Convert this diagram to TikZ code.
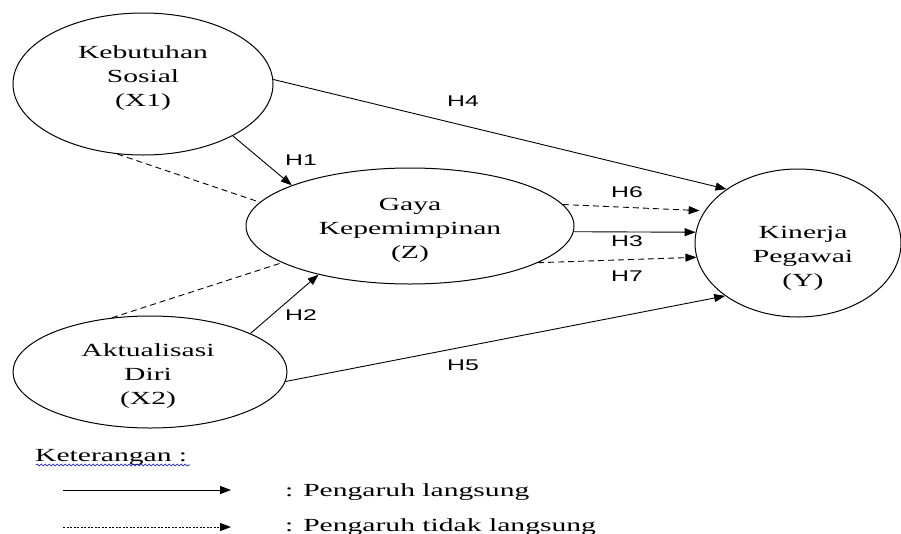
\documentclass[tikz,border=0pt]{standalone}
\usepackage{fontspec}
\setmainfont[FakeStretch=1.6]{Liberation Serif}
\setsansfont[FakeStretch=1.6]{Liberation Sans}
\usetikzlibrary{shapes.geometric,arrows.meta,decorations.pathmorphing}
\tikzset{
  ell/.style={ellipse, draw, line width=1pt, inner sep=0pt},
  lbl/.style={font=\fontsize{18.5}{24}\selectfont, align=center, inner sep=0pt},
  hyp/.style={font=\sffamily\fontsize{15.5}{18}\selectfont, inner sep=0pt},
  direct/.style={-{Triangle[length=11pt,width=8pt]}, line width=0.9pt},
  indirect/.style={direct, dash pattern=on 6pt off 4pt},
  link/.style={line width=0.9pt, dash pattern=on 6pt off 4pt},
  legtxt/.style={font=\fontsize{18.5}{24}\selectfont, inner sep=0pt},
}
\begin{document}
\begin{tikzpicture}[x=1pt, y=-1pt]
\useasboundingbox (0,0) rectangle (901,533);
% ellipses
\node[ell, minimum width=260pt, minimum height=142pt] (x1) at (143,84) {};
\node[ell, minimum width=274pt, minimum height=112pt] (x2) at (150,372) {};
\node[ell, minimum width=328pt, minimum height=116pt] (z) at (410,226) {};
\node[ell, minimum width=206pt, minimum height=148pt] (y) at (798,243) {};
% texts
\node[lbl] (x1t) at (143,78) {Kebutuhan\\Sosial\\(X1)};
\node[lbl] (x2t) at (148,376) {Aktualisasi\\Diri\\(X2)};
\node[lbl] (zt) at (410,230) {Gaya\\Kepemimpinan\\(Z)};
\node[lbl] (yt) at (803,258) {Kinerja\\Pegawai\\(Y)};
% connectors
\draw[direct] (x1.-30) -- (z.161);
\draw[direct] (x1.2) -- (y.143);
\draw[link] (x1.-110) -- (z.171);
\draw[direct] (x2.21) -- (z.208);
\draw[direct] (x2.-4) -- (y.216);
\draw[link] (x2.125) -- (z.196);
\draw[direct] (z.-2) -- (y.174);
\draw[indirect, shorten >=5pt] (z.8.5) -- (y.161);
\draw[indirect] (z.-16) -- (y.188);
% hypothesis labels
\node[hyp] (h1) at (301,160) {H1};
\node[hyp] (h2) at (301,315) {H2};
\node[hyp] (h3) at (627,241) {H3};
\node[hyp] (h4) at (463,101) {H4};
\node[hyp] (h5) at (463,365) {H5};
\node[hyp] (h6) at (627,192) {H6};
\node[hyp] (h7) at (627,276) {H7};
% legend
\node[legtxt, anchor=base west] (ket) at (35,461) {Keterangan :};
\coordinate (wa) at (36,465);
\coordinate (wb) at (190,465);
\draw[blue!80!black, line width=0.6pt, decorate, decoration={snake, amplitude=0.9pt, segment length=4pt}] (wa) -- (wb);
\coordinate (l1a) at (63,490);
\coordinate (l1b) at (231,490);
\coordinate (l2a) at (63,527);
\coordinate (l2b) at (231,527);
\draw[direct] (l1a) -- (l1b);
\draw[direct, dash pattern=on 2pt off 1.5pt] (l2a) -- (l2b);
\node[legtxt, anchor=base west] (t1) at (285,496) {: Pengaruh langsung};
\node[legtxt, anchor=base west] (t2) at (285,531) {: Pengaruh tidak langsung};
\end{tikzpicture}
\end{document}
